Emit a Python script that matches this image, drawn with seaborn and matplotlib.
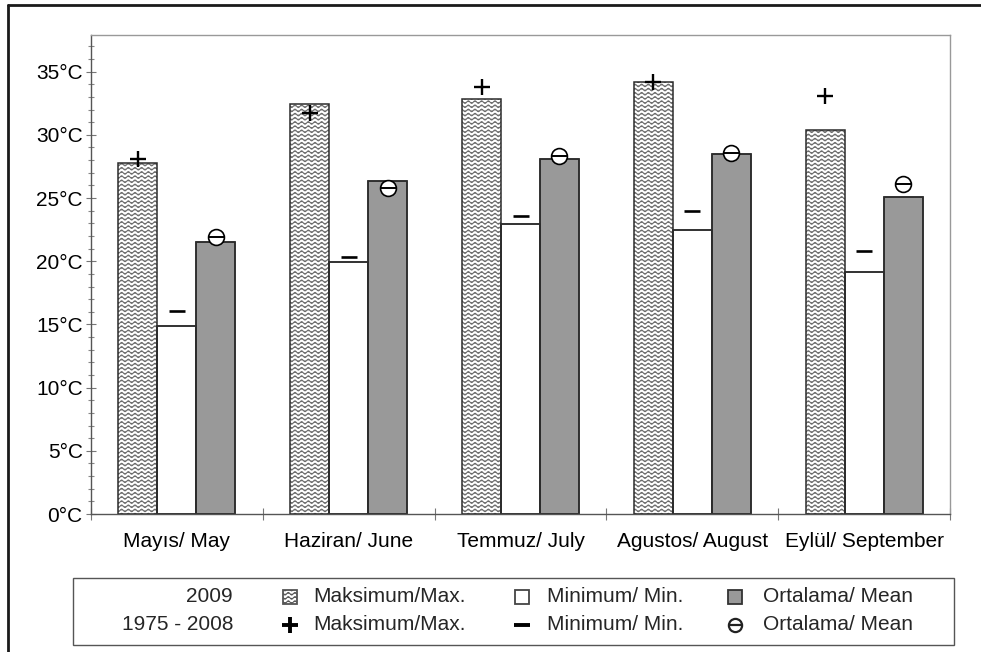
import warnings
import numpy as np
import pandas as pd
import matplotlib
matplotlib.use("Agg")
import matplotlib.pyplot as plt
import matplotlib.hatch as mhatch
from matplotlib.path import Path
from matplotlib.lines import Line2D
from matplotlib.patches import Rectangle
from matplotlib.ticker import MultipleLocator
import seaborn as sns

warnings.filterwarnings("ignore")

# ---- data -------------------------------------------------------------
months = ["Mayıs/ May", "Haziran/ June", "Temmuz/ July",
          "Agustos/ August", "Eylül/ September"]
max_2009 = [27.8, 32.45, 32.85, 34.15, 30.4]
min_2009 = [14.85, 19.9, 22.95, 22.5, 19.15]
mean_2009 = [21.55, 26.35, 28.1, 28.5, 25.05]
max_hist = [28.1, 31.7, 33.75, 34.2, 33.05]
min_hist = [16.1, 20.3, 23.6, 24.0, 20.8]
mean_hist = [21.9, 25.8, 28.3, 28.55, 26.1]
y_ticks = [0, 5, 10, 15, 20, 25, 30, 35]
y_tick_labels = [f"{v}°C" for v in y_ticks]
series = ["max", "min", "mean"]


# ---- wavy hatch pattern ("~") ----------------------------------------
class WavyHatch(mhatch.HatchPatternBase):
    def __init__(self, hatch, density):
        self.num_lines = int(hatch.count("~") * density * 4)
        self.periods = 15
        self.samples = self.periods * 8 + 1
        self.num_vertices = self.num_lines * self.samples

    def set_vertices_and_codes(self, vertices, codes):
        if self.num_lines == 0:
            return
        xs = np.linspace(0.0, 1.0, self.samples)
        wave = 0.013 * np.sin(2 * np.pi * self.periods * xs)
        for i in range(self.num_lines):
            y0 = (i + 0.5) / self.num_lines
            sl = slice(i * self.samples, (i + 1) * self.samples)
            vertices[sl, 0] = xs
            vertices[sl, 1] = y0 + wave
            codes[sl] = Path.LINETO
            codes[i * self.samples] = Path.MOVETO


mhatch._hatch_types.append(WavyHatch)

# ---- style -------------------------------------------------------------
sns.set_style("white")
plt.rcParams["font.family"] = ["Liberation Sans", "DejaVu Sans"]
plt.rcParams["hatch.linewidth"] = 0.75

W, H = 981, 652
fig = plt.figure(figsize=(W / 100, H / 100), dpi=100)
ax = fig.add_axes([91 / W, 1 - 514 / H, (950 - 91) / W, (514 - 35) / H])

df = pd.DataFrame({
    "month": months * 3,
    "value": max_2009 + min_2009 + mean_2009,
    "series": [s for s in series for _ in months],
})

EDGE = "#2b2b2b"
MEAN_GREY = "#999999"
BAR_W = 0.68

# filled bars
sns.barplot(data=df, x="month", y="value", hue="series", order=months,
            hue_order=series, palette={"max": "white", "min": "white", "mean": MEAN_GREY},
            width=BAR_W, gap=0, errorbar=None, legend=False,
            edgecolor=EDGE, linewidth=1.1, ax=ax)
for p in ax.containers[0]:
    p.set_hatch("~")
    p.set_edgecolor("#6a6a6a")
    p.set_linewidth(0)

# outlines on top of the hatched bars
sns.barplot(data=df, x="month", y="value", hue="series", order=months,
            hue_order=series, palette={s: EDGE for s in series}, fill=False,
            width=BAR_W, gap=0, errorbar=None, legend=False,
            linewidth=1.1, ax=ax)

# 1975-2008 reference markers over each bar
pos = np.arange(len(months))
off = BAR_W / 3
sns.scatterplot(x=pos - off, y=max_hist, marker="+", s=135, color="black",
                linewidth=1.7, zorder=4, ax=ax)
sns.scatterplot(x=pos, y=min_hist, marker="_", s=130, color="black",
                linewidth=1.9, zorder=4, ax=ax)
sns.scatterplot(x=pos + off, y=mean_hist, marker="o", s=130, color="white",
                edgecolor="black", linewidth=1.2, zorder=4, ax=ax)
sns.scatterplot(x=pos + off, y=mean_hist, marker="_", s=130, color="black",
                linewidth=1.4, zorder=5, ax=ax)

# ---- axes --------------------------------------------------------------
ax.set_xlim(-0.5, len(months) - 0.5)
ax.set_ylim(0, 37.9)
ax.set_xlabel("")
ax.set_ylabel("")
ax.set_yticks(y_ticks)
ax.set_yticklabels(y_tick_labels)
ax.yaxis.set_minor_locator(MultipleLocator(1))
ax.set_xticks(pos)
ax.set_xticklabels(months)
ax.set_xticks(np.arange(-0.5, len(months), 1.0), minor=True)

ax.tick_params(axis="x", which="major", length=0, pad=13, labelsize=15,
               labelcolor="black")
ax.tick_params(axis="x", which="minor", direction="inout", length=9,
               width=0.8, color="#777777", bottom=True)
ax.tick_params(axis="y", which="major", direction="inout", length=7,
               width=0.8, color="#777777", pad=2.5, labelsize=15,
               labelcolor="black", left=True)
ax.tick_params(axis="y", which="minor", direction="inout", length=5,
               width=0.8, color="#888888", left=True)

for side in ("left", "bottom"):
    ax.spines[side].set_color("#555555")
    ax.spines[side].set_linewidth(1.0)
for side in ("top", "right"):
    ax.spines[side].set_color("#999999")
    ax.spines[side].set_linewidth(1.0)
    ax.spines[side].set_visible(True)


# ---- legend panel ------------------------------------------------------
def fx(x):
    return x / W


def fy(y):
    return 1 - y / H


fig.add_artist(Rectangle((fx(73), fy(645)), fx(954) - fx(73), fy(578) - fy(645),
                         transform=fig.transFigure, facecolor="white",
                         edgecolor="#555555", linewidth=1.0))

rows = [597, 625]
fig.text(fx(233), fy(rows[0]), "2009", ha="right", va="center", fontsize=15)
fig.text(fx(233), fy(rows[1]), "1975 - 2008", ha="right", va="center", fontsize=15)

col_mark = [290, 522, 735]
col_text = [313, 547, 763]
labels = ["Maksimum/Max.", "Minimum/ Min.", "Ortalama/ Mean"]
for cx, tx, lab in zip(col_mark, col_text, labels):
    fig.text(fx(tx), fy(rows[0]), lab, ha="left", va="center", fontsize=15)
    fig.text(fx(tx), fy(rows[1]), lab, ha="left", va="center", fontsize=15)

sq = 14
swatches = [("white", "~", "#555555"), ("white", None, "#444444"),
            (MEAN_GREY, None, "#333333")]
for cx, (fc, hatch, ec) in zip(col_mark, swatches):
    r = Rectangle((fx(cx - sq / 2), fy(rows[0] + sq / 2)), sq / W, sq / H,
                  transform=fig.transFigure, facecolor=fc, edgecolor=ec,
                  linewidth=1.3, hatch=hatch)
    fig.add_artist(r)

fig.add_artist(Line2D([fx(col_mark[0])], [fy(rows[1])], marker="+", markersize=12,
                      mew=2.8, color="black", transform=fig.transFigure))
fig.add_artist(Line2D([fx(col_mark[1])], [fy(rows[1])], marker="_", markersize=12,
                      mew=2.8, color="black", transform=fig.transFigure))
fig.add_artist(Line2D([fx(col_mark[2])], [fy(rows[1])], marker="o", markersize=9.5,
                      mew=1.6, markerfacecolor="white", markeredgecolor="#222222",
                      transform=fig.transFigure))
fig.add_artist(Line2D([fx(col_mark[2])], [fy(rows[1])], marker="_", markersize=9.5,
                      mew=1.6, color="#222222", transform=fig.transFigure))

# ---- outer frame ---------------------------------------------------------
fig.add_artist(Line2D([fx(8), fx(8)], [fy(5), 0], color="#1a1a1a", linewidth=2.0,
                      transform=fig.transFigure))
fig.add_artist(Line2D([fx(8), 1], [fy(5), fy(5)], color="#1a1a1a", linewidth=2.0,
                      transform=fig.transFigure))

fig.savefig("out.png", dpi=100)
